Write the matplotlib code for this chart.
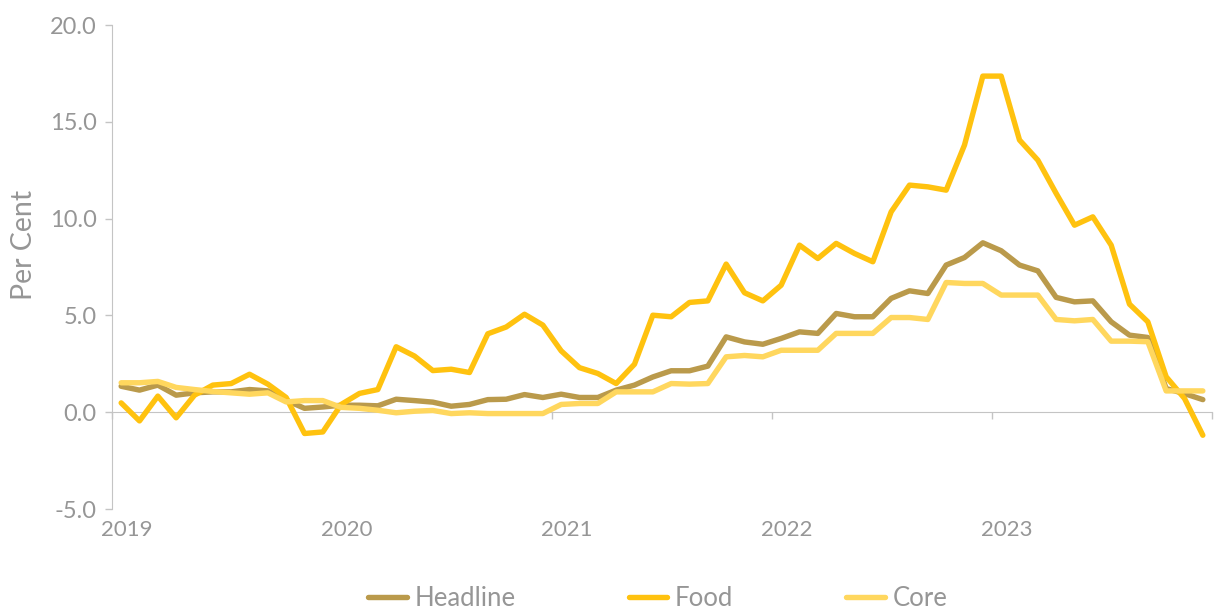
import matplotlib
matplotlib.use("Agg")
import matplotlib.pyplot as plt
import numpy as np

plt.rcParams['font.family'] = ['Lato', 'DejaVu Sans']

# monthly year-on-year change, Jan 2019 .. Dec 2023
years = ["2019", "2020", "2021", "2022", "2023"]

headline = [1.34, 1.14, 1.40, 0.88, 1.00, 1.05, 1.05, 1.17, 1.10, 0.62, 0.20, 0.27,
            0.36, 0.36, 0.33, 0.67, 0.60, 0.52, 0.31, 0.40, 0.65, 0.67, 0.91, 0.76,
            0.93, 0.76, 0.76, 1.14, 1.40, 1.82, 2.14, 2.14, 2.38, 3.89, 3.63, 3.51,
            3.81, 4.15, 4.07, 5.10, 4.93, 4.93, 5.88, 6.27, 6.13, 7.60, 7.99, 8.75,
            8.34, 7.60, 7.30, 5.93, 5.70, 5.75, 4.67, 3.98, 3.86, 1.22, 0.96, 0.65]

food = [0.48, -0.45, 0.83, -0.29, 0.88, 1.40, 1.48, 1.96, 1.45, 0.76, -1.10, -1.02,
        0.40, 0.97, 1.17, 3.38, 2.90, 2.15, 2.22, 2.05, 4.05, 4.40, 5.06, 4.50,
        3.17, 2.30, 2.00, 1.48, 2.48, 5.01, 4.93, 5.67, 5.75, 7.65, 6.17, 5.75,
        6.56, 8.63, 7.94, 8.72, 8.20, 7.77, 10.35, 11.73, 11.64, 11.47, 13.80, 17.36,
        17.36, 14.06, 13.02, 11.30, 9.66, 10.09, 8.63, 5.58, 4.67, 1.83, 0.71, -1.19]

core = [1.52, 1.52, 1.59, 1.28, 1.17, 1.07, 1.00, 0.93, 1.00, 0.53, 0.60, 0.60,
        0.25, 0.20, 0.10, -0.03, 0.05, 0.09, -0.07, -0.03, -0.07, -0.07, -0.07, -0.07,
        0.40, 0.45, 0.45, 1.05, 1.05, 1.05, 1.48, 1.45, 1.48, 2.86, 2.93, 2.86,
        3.20, 3.20, 3.20, 4.07, 4.07, 4.07, 4.89, 4.89, 4.79, 6.70, 6.65, 6.65,
        6.05, 6.05, 6.05, 4.79, 4.72, 4.79, 3.67, 3.67, 3.64, 1.10, 1.10, 1.10]

series = [("Headline", headline, "#BA9A4B"),
          ("Food", food, "#FFC20F"),
          ("Core", core, "#FFD75E")]

text_color = "#969696"
axis_color = "#C4C4C4"

fig = plt.figure(figsize=(12.15, 6.10), dpi=100)
ax = fig.add_axes([112 / 1215, 1 - 509 / 610, 1100 / 1215, 484 / 610])

months = np.arange(len(headline))
for name, vals, col in series:
    ax.plot(months, vals, color=col, lw=3.9, label=name,
            solid_joinstyle="round", solid_capstyle="round")

ax.set_xlim(-0.5, len(headline) - 0.5)
ax.set_ylim(-5, 20)

# y axis
ax.set_yticks(np.arange(-5, 20.1, 5))
ax.yaxis.set_major_formatter(matplotlib.ticker.FormatStrFormatter("%.1f"))
ax.tick_params(axis="y", colors=axis_color, labelcolor=text_color,
               labelsize=17, length=5, width=1, pad=6)
ax.set_ylabel("Per Cent", color=text_color, fontsize=20.5)
ax.yaxis.set_label_coords(-0.068, 0.545)

for s in ["top", "right", "bottom"]:
    ax.spines[s].set_visible(False)
ax.spines["left"].set_color(axis_color)

# year labels along the bottom, boundary ticks on the zero line
ax.set_xticks([])
ax.set_xticks(np.arange(len(years)) * 12 + 0.3, minor=True)
ax.set_xticklabels(years, minor=True)
ax.tick_params(axis="x", which="minor", length=0, labelsize=16,
               labelcolor=text_color, pad=8)

zero = ax.secondary_xaxis(0.2)
zero.set_xticks(np.arange(len(years) + 1) * 12 - 0.5)
zero.set_xticklabels([])
zero.tick_params(axis="x", colors=axis_color, length=5, width=1)
zero.spines["bottom"].set_color(axis_color)

fig.legend(loc="center", bbox_to_anchor=(658 / 1215, 1 - 598 / 610), ncol=3,
           frameon=False, fontsize=18.5, labelcolor=text_color,
           handlelength=1.5, handletextpad=0.3, columnspacing=4.4)

fig.savefig("out.png", dpi=100)
